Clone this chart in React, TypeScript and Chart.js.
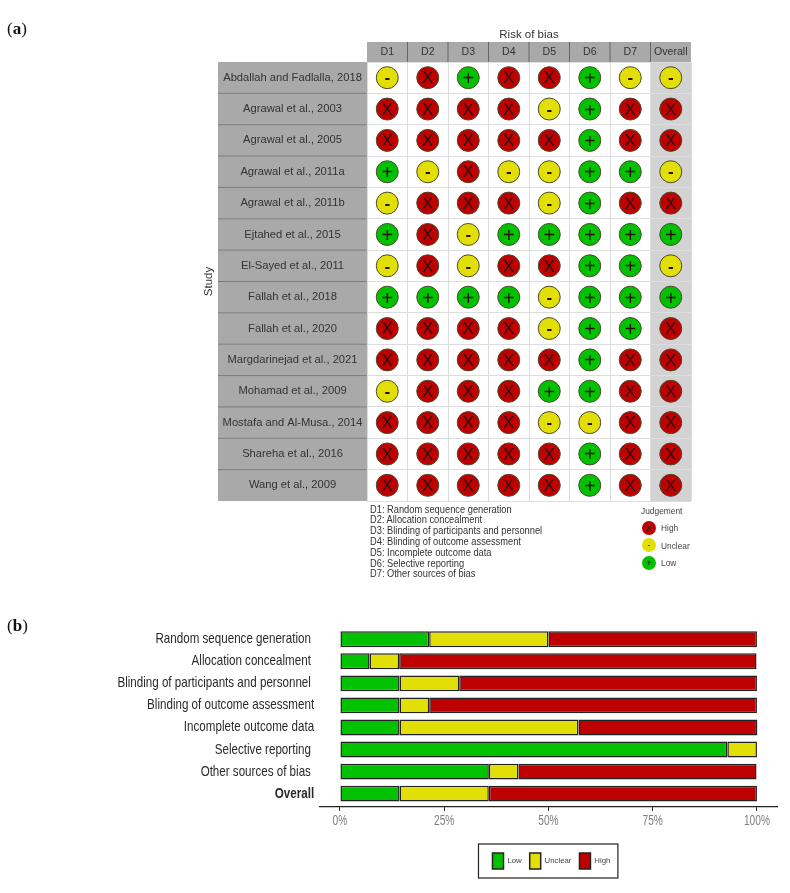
import React, { useEffect, useRef } from "react";
import { Chart, registerables } from "chart.js";

Chart.register(...registerables);

const studies = [
  "Abdallah and Fadlalla, 2018",
  "Agrawal et al., 2003",
  "Agrawal et al., 2005",
  "Agrawal et al., 2011a",
  "Agrawal et al., 2011b",
  "Ejtahed et al., 2015",
  "El-Sayed et al., 2011",
  "Fallah et al., 2018",
  "Fallah et al., 2020",
  "Margdarinejad et al., 2021",
  "Mohamad et al., 2009",
  "Mostafa and Al-Musa., 2014",
  "Shareha et al., 2016",
  "Wang et al., 2009",
];
const domains = ["D1", "D2", "D3", "D4", "D5", "D6", "D7", "Overall"];
const judgements = [
  "UHLHHLUU",
  "HHHHULHH",
  "HHHHHLHH",
  "LUHUULLU",
  "UHHHULHH",
  "LHULLLLL",
  "UHUHHLLU",
  "LLLLULLL",
  "HHHHULLH",
  "HHHHHLHH",
  "UHHHLLHH",
  "HHHHUUHH",
  "HHHHHLHH",
  "HHHHHLHH",
];
const domainNotes = [
  "D1: Random sequence generation",
  "D2: Allocation concealment",
  "D3: Blinding of participants and personnel",
  "D4: Blinding of outcome assessment",
  "D5: Incomplete outcome data",
  "D6: Selective reporting",
  "D7: Other sources of bias",
];
const bias = [
  "Random sequence generation\u00A0",
  "Allocation concealment\u00A0",
  "Blinding of participants and personnel\u00A0",
  "Blinding of outcome assessment",
  "Incomplete outcome data",
  "Selective reporting\u00A0",
  "Other sources of bias\u00A0",
  "Overall",
];
const lowPct = [21.4, 7.1, 14.3, 14.3, 14.3, 92.9, 35.7, 14.3];
const unclearPct = [28.6, 7.1, 14.3, 7.1, 42.9, 7.1, 7.1, 21.4];
const highPct = [50, 85.7, 71.4, 78.6, 42.9, 0, 57.1, 64.3];
const pctTicks = [0, 25, 50, 75, 100];

const HIGH = "#BF0000";
const UNCLEAR = "#E2DF07";
const LOW = "#02C100";
const SANS = '"Liberation Sans", Arial, sans-serif';

const levels = [
  { key: "H", label: "High", color: HIGH, glyph: "X" },
  { key: "U", label: "Unclear", color: UNCLEAR, glyph: "-" },
  { key: "L", label: "Low", color: LOW, glyph: "+" },
];

// Reference text is horizontally condensed: squeeze a scale's tick labels about their anchors.
function condense(s: any, sx: number) {
  if (s.__condensed) return;
  s.__condensed = true;
  const ctx = s.ctx;
  const items = s.getLabelItems.bind(s);
  const draw = s.drawLabels.bind(s);
  s._computeLabelArea = () => undefined;
  s.getLabelItems = (a: any) =>
    items(a).map((it: any) => ({
      ...it,
      options: {
        ...it.options,
        translation: [it.options.translation[0] / sx, it.options.translation[1]],
      },
    }));
  s.drawLabels = (a: any) => {
    ctx.save();
    ctx.scale(sx, 1);
    draw(a);
    ctx.restore();
  };
}

const cellsPlugin = {
  id: "cells",
  beforeDraw(chart: any) {
    const { ctx, scales, chartArea } = chart;
    const colW = scales.x.getPixelForValue(1) - scales.x.getPixelForValue(0);
    const rowH = scales.y.getPixelForValue(1) - scales.y.getPixelForValue(0);
    ctx.save();
    const ox = scales.x.getPixelForValue(7) - colW / 2;
    ctx.fillStyle = "#D3D3D3";
    ctx.fillRect(ox, chartArea.top, colW, chartArea.bottom - chartArea.top);
    studies.forEach((_, i) => {
      const y = scales.y.getPixelForValue(i) - rowH / 2;
      ctx.fillStyle = "#A9A9A9";
      ctx.fillRect(218, y, chartArea.left - 218, rowH);
      ctx.strokeStyle = "#7C7C7C";
      ctx.lineWidth = 1;
      if (i > 0) {
        ctx.beginPath();
        ctx.moveTo(218, y);
        ctx.lineTo(chartArea.left, y);
        ctx.stroke();
      }
    });
    domains.forEach((_, i) => {
      const x = scales.x.getPixelForValue(i) - colW / 2;
      ctx.fillStyle = "#A9A9A9";
      ctx.fillRect(x, 42, colW, chartArea.top - 42);
      ctx.strokeStyle = "#666666";
      ctx.lineWidth = 1;
      if (i > 0) {
        ctx.beginPath();
        ctx.moveTo(x, 42);
        ctx.lineTo(x, chartArea.top);
        ctx.stroke();
      }
    });
    ctx.restore();
  },
  afterDatasetsDraw(chart: any) {
    const { ctx } = chart;
    ctx.save();
    ctx.textAlign = "center";
    ctx.textBaseline = "middle";
    ctx.fillStyle = "#2A1010";
    chart.data.datasets.forEach((ds: any, di: number) => {
      const glyph = ds.glyph;
      chart.getDatasetMeta(di).data.forEach((pt: any) => {
        ctx.font = glyph === "X" ? `17px ${SANS}` : glyph === "+" ? `20px ${SANS}` : `bold 17px ${SANS}`;
        ctx.fillText(glyph, pt.x, pt.y + (glyph === "+" ? 2 : 1));
      });
    });
    ctx.restore();
  },
};

const bottomPlugin = {
  id: "bottomFrame",
  afterLayout(chart: any) {
    condense(chart.scales.y, 0.8);
    condense(chart.scales.x, 0.7);
    const legend = chart.legend;
    legend.left = chart.chartArea.left + 6;
    legend.right = chart.chartArea.right;
    const padding = legend.options.labels.padding;
    legend.legendHitBoxes.forEach((h: any) => {
      h.top -= legend.top + padding;
    });
    legend.adjustHitBoxes();
  },
  afterDraw(chart: any) {
    const legend = chart.legend;
    const boxes = legend?.legendHitBoxes;
    if (!boxes?.length) return;
    const { ctx } = chart;
    const first = boxes[0];
    const last = boxes[boxes.length - 1];
    ctx.save();
    ctx.strokeStyle = "#222222";
    ctx.lineWidth = 1.2;
    ctx.strokeRect(first.left - 14, first.top - 9, last.left + last.width - first.left + 21.5, first.height + 18);
    ctx.restore();
  },
};

export default function App() {
  const topRef = useRef<HTMLCanvasElement>(null);
  const bottomRef = useRef<HTMLCanvasElement>(null);

  useEffect(() => {
    const matrix = new Chart(topRef.current as HTMLCanvasElement, {
      type: "scatter",
      data: {
        labels: domains,
        datasets: levels.map((lv) => {
          const points: any[] = [];
          judgements.forEach((row, r) =>
            row.split("").forEach((c, d) => {
              if (c === lv.key) points.push({ x: domains[d], y: studies[r] });
            })
          );
          return {
            label: lv.label,
            glyph: lv.glyph,
            data: points,
            backgroundColor: lv.color,
            borderColor: "#4A4A30",
            borderWidth: 1,
            pointRadius: 11,
          } as any;
        }),
      },
      options: {
        animation: false,
        responsive: false,
        layout: { padding: { left: 200, right: 99, top: 0, bottom: 109 } },
        plugins: { legend: { display: false }, tooltip: { enabled: false } },
        scales: {
          x: {
            type: "category",
            labels: domains,
            position: "top",
            offset: true,
            afterFit: (s: any) => {
              s.height = 62;
            },
            title: {
              display: true,
              text: "Risk of bias",
              color: "#333",
              font: { family: SANS, size: 11.5 },
              padding: { top: 28, bottom: 0 },
            },
            grid: { color: "#DDDDDD", drawTicks: false, offset: true },
            border: { display: false },
            ticks: { color: "#333", font: { family: SANS, size: 10.6 }, padding: 4, autoSkip: false, maxRotation: 0 },
          },
          y: {
            type: "category",
            labels: studies,
            offset: true,
            afterFit: (s: any) => {
              s.width = 167;
            },
            title: {
              display: true,
              text: "Study",
              color: "#333",
              font: { family: SANS, size: 11.5 },
              padding: { top: 2, bottom: 0 },
            },
            grid: { color: "#DDDDDD", drawTicks: false, offset: true },
            border: { display: false },
            ticks: {
              color: "#333",
              font: { family: SANS, size: 11.2 },
              crossAlign: "center",
              padding: 4.5,
              autoSkip: false,
            },
          },
        },
      } as any,
      plugins: [cellsPlugin as any],
    });

    const stacked = new Chart(bottomRef.current as HTMLCanvasElement, {
      type: "bar",
      data: {
        datasets: [
          { label: "Low", data: lowPct, backgroundColor: LOW },
          { label: "Unclear", data: unclearPct, backgroundColor: UNCLEAR },
          { label: "High", data: highPct, backgroundColor: HIGH },
        ].map((d) => ({
          ...d,
          data: d.data.map((v, i) => ({ x: v, y: i })),
          borderColor: "#222222",
          borderWidth: 1.5,
          borderSkipped: false,
          barPercentage: 0.72,
          categoryPercentage: 1,
        })) as any,
      },
      options: {
        indexAxis: "y",
        animation: false,
        responsive: false,
        layout: { padding: { left: 0, right: 12.2, top: 16, bottom: 14 } },
        plugins: {
          tooltip: { enabled: false },
          legend: {
            position: "bottom",
            onClick: () => {},
            labels: {
              boxWidth: 11,
              boxHeight: 16,
              padding: 8,
              color: "#444",
              font: { family: SANS, size: 7.8 },
            },
          },
        },
        scales: {
          x: {
            type: "linear",
            stacked: true,
            min: -5,
            max: 105,
            afterBuildTicks: (s: any) => {
              s.ticks = pctTicks.map((value) => ({ value }));
            },
            afterFit: (s: any) => {
              s.height = 38.1;
            },
            grid: { drawOnChartArea: false, drawTicks: true, tickLength: 4, color: "#222222" },
            border: { color: "#222222", width: 1.2 },
            ticks: {
              color: "#808080",
              padding: 1,
              font: { family: SANS, size: 14.5 },
              autoSkip: false,
              maxRotation: 0,
              callback: (v: any) => `${v}%`,
            },
          },
          y: {
            type: "linear",
            stacked: true,
            reverse: true,
            offset: false,
            min: -0.6,
            max: 7.6,
            afterBuildTicks: (s: any) => {
              s.ticks = bias.map((_, value) => ({ value }));
            },
            afterFit: (s: any) => {
              s.width = 319.1;
            },
            grid: { display: false, drawTicks: false },
            border: { display: false },
            ticks: {
              color: "#2A2A2A",
              padding: 5,
              autoSkip: false,
              font: (ctx: any) => ({
                family: SANS,
                size: 14.5,
                weight: ctx.index === bias.length - 1 ? "bold" : "normal",
              }),
              callback: (v: any) => bias[v],
            },
          },
        },
      } as any,
      plugins: [bottomPlugin as any],
    });

    return () => {
      matrix.destroy();
      stacked.destroy();
    };
  }, []);

  const serif: React.CSSProperties = {
    position: "absolute",
    fontFamily: '"Liberation Serif", serif',
    fontSize: 17,
    color: "#111",
    lineHeight: "20px",
  };
  const squeezed = (sx: number): React.CSSProperties => ({
    transform: `scaleX(${sx})`,
    transformOrigin: "left center",
    whiteSpace: "nowrap",
  });

  return (
    <div style={{ position: "absolute", left: 0, top: 0, width: 790, height: 893, overflow: "hidden", background: "#fff" }}>
      <canvas ref={topRef} width={790} height={610} style={{ position: "absolute", left: 0, top: 0 }} />
      <canvas ref={bottomRef} width={790} height={283} style={{ position: "absolute", left: 0, top: 610 }} />
      <div style={{ ...serif, left: 7, top: 19 }}>
        (<b>a</b>)
      </div>
      <div style={{ ...serif, left: 7, top: 616 }}>
        (<b>b</b>)
      </div>
      <div
        style={{
          position: "absolute",
          left: 369.5,
          top: 504.5,
          fontFamily: SANS,
          fontSize: 10.4,
          lineHeight: "10.83px",
          color: "#333",
          ...squeezed(0.895),
        }}
      >
        {domainNotes.map((t) => (
          <div key={t}>{t}</div>
        ))}
      </div>
      <div
        style={{
          position: "absolute",
          left: 641,
          top: 504.5,
          fontFamily: SANS,
          fontSize: 9.3,
          lineHeight: "12px",
          color: "#444",
          ...squeezed(0.9),
        }}
      >
        Judgement
      </div>
      {levels.map((lv, i) => (
        <React.Fragment key={lv.key}>
          <div
            style={{
              position: "absolute",
              left: 642,
              top: 520.7 + i * 17.5,
              width: 14,
              height: 14,
              borderRadius: "50%",
              background: lv.color,
              textAlign: "center",
              fontFamily: SANS,
              fontSize: 9,
              lineHeight: "14px",
              color: "#222",
            }}
          >
            {lv.glyph}
          </div>
          <div
            style={{
              position: "absolute",
              left: 661,
              top: 521 + i * 17.5,
              fontFamily: SANS,
              fontSize: 9.6,
              lineHeight: "14px",
              color: "#444",
              ...squeezed(0.87),
            }}
          >
            {lv.label}
          </div>
        </React.Fragment>
      ))}
    </div>
  );
}
